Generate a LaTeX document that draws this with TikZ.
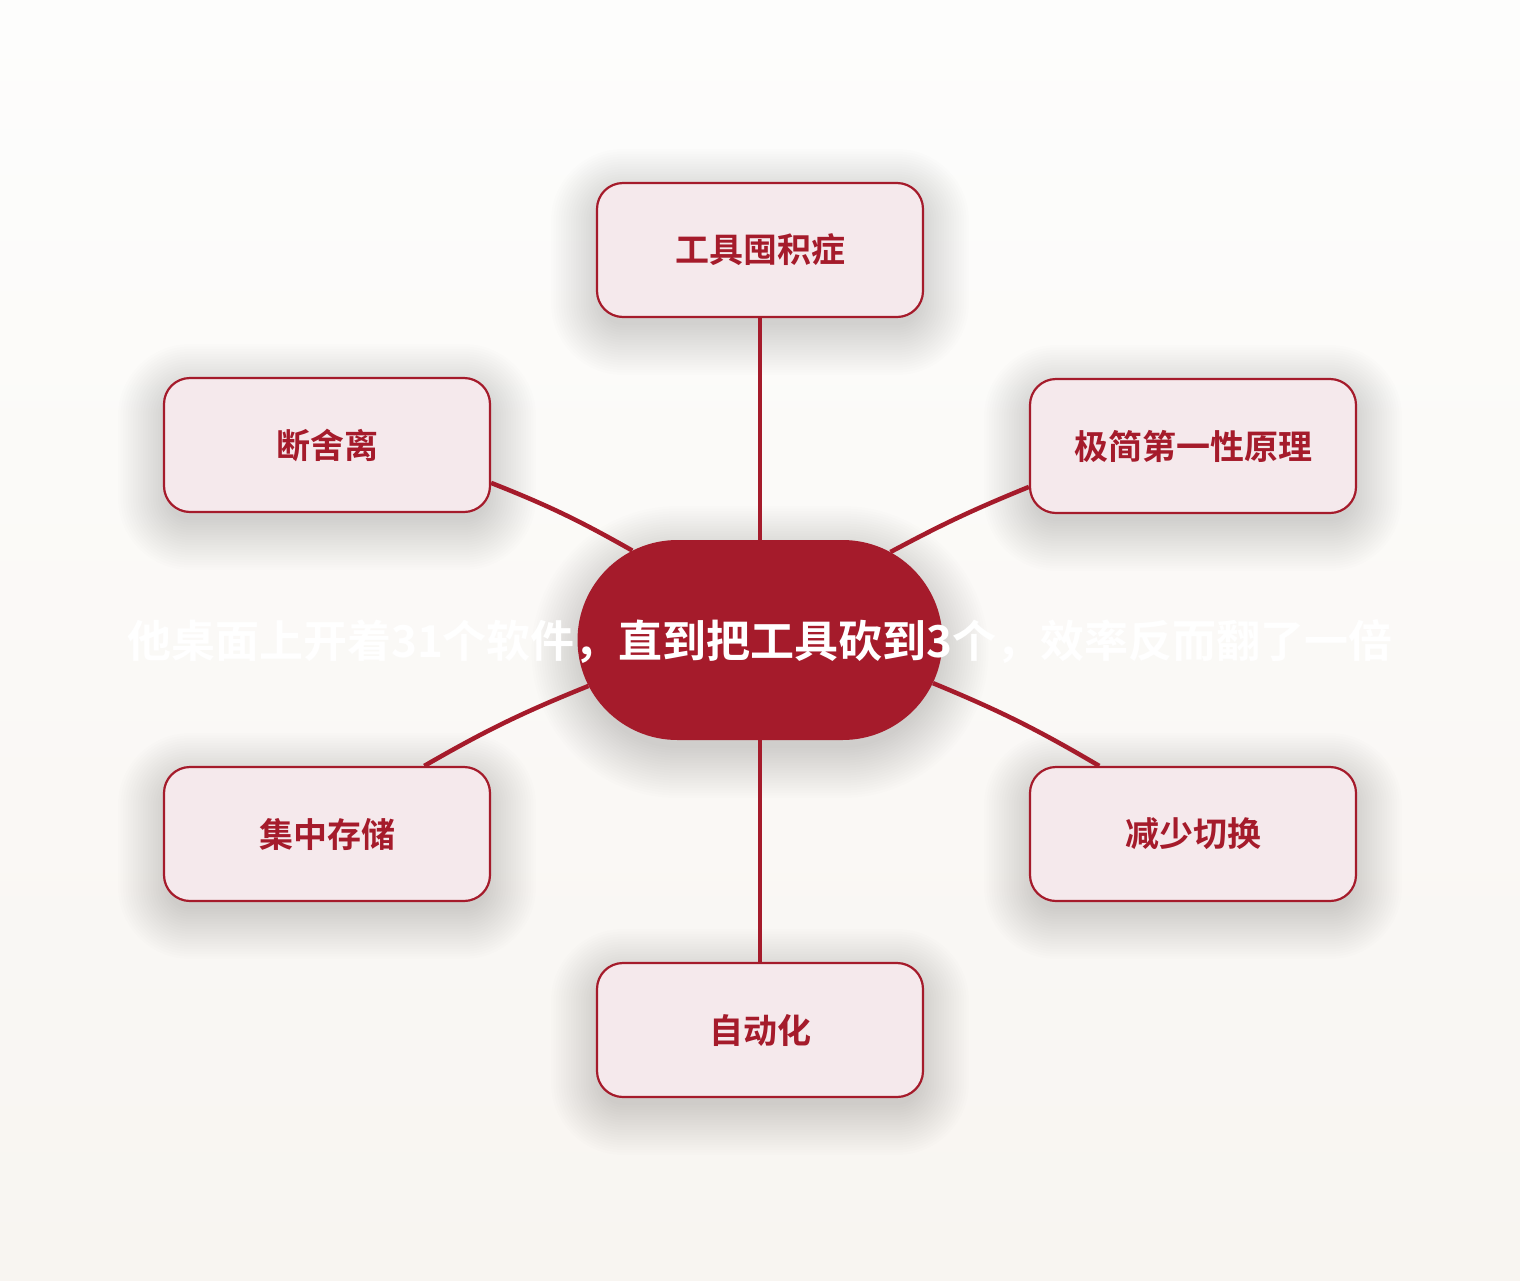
\documentclass[tikz,border=0pt]{standalone}
\usepackage{fontspec}
\setmainfont{Noto Sans CJK SC}[BoldFont={Noto Sans CJK SC Bold}]
\usetikzlibrary{shapes.misc}
\definecolor{brand}{HTML}{A51B2B}
\definecolor{boxfill}{HTML}{F5E9EC}
\definecolor{bgtop}{HTML}{FDFDFC}
\definecolor{bgbot}{HTML}{F8F5F1}
% soft shadow: centre x, centre y, width, height, radius
\newcommand\softshadow[5]{%
  \foreach \e in {-4,-1.5,...,46} {%
    \pgfmathsetmacro\rr{#5+\e}%
    \fill[black, opacity=0.0075, rounded corners=\rr pt]
      ({#1-#3/2-\e},{#2-#4/2-\e+12}) rectangle ({#1+#3/2+\e},{#2+#4/2+\e+12});
  }%
}
\begin{document}
\begin{tikzpicture}[x=1pt,y=-1pt,
  leaf/.style={draw=brand, line width=2.2pt, fill=boxfill, rounded corners=26pt,
    minimum width=326pt, minimum height=134pt, inner sep=0pt,
    font=\fontsize{34}{40}\selectfont\bfseries, text=brand},
  hub/.style={rounded rectangle, fill=brand, minimum width=365pt, minimum height=200pt, inner sep=0pt},
  hubtext/.style={font=\fontsize{44}{52}\selectfont\bfseries, text=white, inner sep=0pt},
  link/.style={draw=brand, line width=4.5pt}]
\useasboundingbox (0,0) rectangle (1520,1280);
\shade[top color=bgtop, bottom color=bgbot] (0,0) rectangle (1520,1280);

\softshadow{760}{250}{326}{134}{26}
\softshadow{327}{445}{326}{134}{26}
\softshadow{1193}{446}{326}{134}{26}
\softshadow{327}{834}{326}{134}{26}
\softshadow{1193}{834}{326}{134}{26}
\softshadow{760}{1030}{326}{134}{26}
\softshadow{760}{640}{365}{200}{99.9}

\node[hub] (c) at (760,640) {};
\node[leaf] (t)  at (760,250)  {工具囤积症};
\node[leaf] (lt) at (327,445)  {断舍离};
\node[leaf] (rt) at (1193,446) {极简第一性原理};
\node[leaf] (lb) at (327,834)  {集中存储};
\node[leaf] (rb) at (1193,834) {减少切换};
\node[leaf] (b)  at (760,1030) {自动化};

\draw[link] (t) -- (c);
\draw[link] (lt.-13.5) to[bend left=4] (c.145.6);
\draw[link] (rt.-166.2) to[bend right=3] (c.34.8);
\draw[link] (lb.35.8) to[bend left=4] (c.-165.6);
\draw[link] (rb.144.2) to[bend right=4] (c.-14.4);
\draw[link] (b) -- (c);

\node[hubtext] (ct) at (760,642) {他桌面上开着31个软件，直到把工具砍到3个，效率反而翻了一倍};
\end{tikzpicture}
\end{document}
